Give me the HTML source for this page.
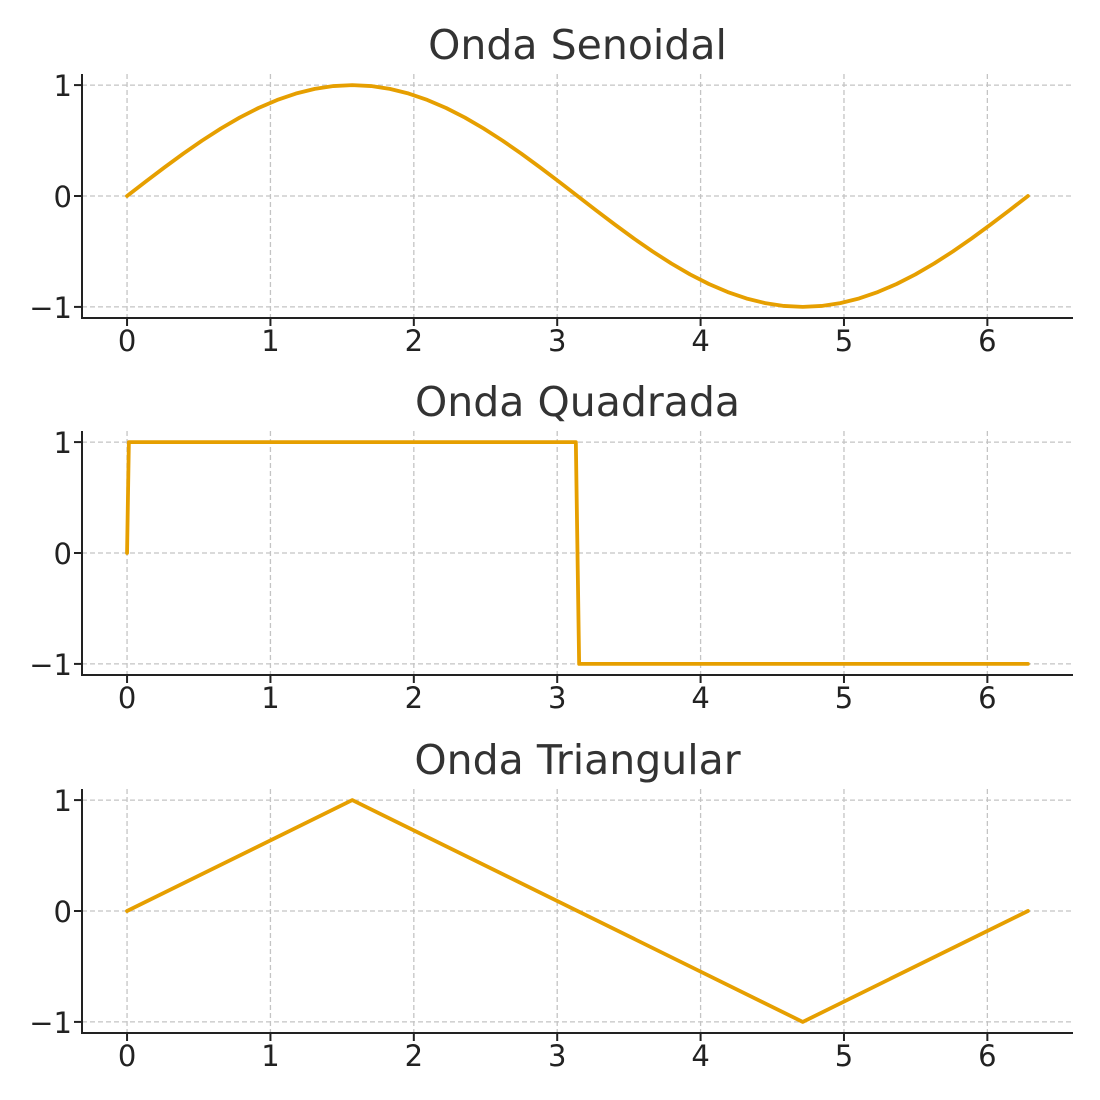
<!DOCTYPE html>
<html><head><meta charset="utf-8"><style>
body{margin:0;background:#fff}
svg{display:block;font-family:"DejaVu Sans","Liberation Sans",sans-serif}
</style></head><body>
<svg id="chart" width="1100" height="1100" viewBox="0 0 1100 1100" xmlns="http://www.w3.org/2000/svg"></svg>
<script>
const xTicks = [0,1,2,3,4,5,6];
const yTicks = [1,0,-1];
const yTickLabels = ["1","0","\u22121"];
const titles = ["Onda Senoidal","Onda Quadrada","Onda Triangular"];
const sineX = [];
for (let k=0;k<=48;k++) sineX.push(k*Math.PI/24);
const sineY = [0,0.1305,0.2588,0.3827,0.5,0.6088,0.7071,0.7934,0.8660,0.9239,0.9659,0.9914,1,0.9914,0.9659,0.9239,0.8660,0.7934,0.7071,0.6088,0.5,0.3827,0.2588,0.1305,0,-0.1305,-0.2588,-0.3827,-0.5,-0.6088,-0.7071,-0.7934,-0.8660,-0.9239,-0.9659,-0.9914,-1,-0.9914,-0.9659,-0.9239,-0.8660,-0.7934,-0.7071,-0.6088,-0.5,-0.3827,-0.2588,-0.1305,0];
const squareX = [0,0.0126,3.13,3.153,6.283];
const squareY = [0,1,1,-1,-1];
const triX = [0,1.5708,4.7124,6.283];
const triY = [0,1,-1,0];
const series = [[sineX,sineY],[squareX,squareY],[triX,triY]];
const names = ["sine","square","triangle"];

const svg = document.getElementById('chart');
const NS = "http://www.w3.org/2000/svg";
function el(tag, attrs, parent){const e=document.createElementNS(NS,tag);for(const k in attrs)e.setAttribute(k,attrs[k]);(parent||svg).appendChild(e);return e;}

const left=82,right=1073;
const xmin=-0.3142,xmax=6.5973;
const panelTops=[74,431,789];
const panelH=244;
function xs(v){return left+(v-xmin)/(xmax-xmin)*(right-left);}

panelTops.forEach((top,p)=>{
  const g=el('g',{});
  
  
  const bottom=top+panelH;
  const ys=v=>top+(1.1-v)/2.2*panelH;
  const t=el('text',{x:(left+right)/2,y:top-15,'text-anchor':'middle','font-size':41,fill:'#333'},g);
  t.textContent=titles[p];
  
  
  xTicks.forEach(v=>{
    const l=el('line',{x1:xs(v),x2:xs(v),y1:top,y2:bottom,stroke:'#c4c4c4','stroke-width':1.3,'stroke-dasharray':'5,3'},g);
    
    
    el('line',{x1:xs(v),x2:xs(v),y1:bottom,y2:bottom+8,stroke:'#222','stroke-width':2},g);
    const tl=el('text',{x:xs(v),y:bottom+33,'text-anchor':'middle','font-size':29,fill:'#222'},g);
    tl.textContent=String(v);
    
    
  });
  yTicks.forEach((v,i)=>{
    const l=el('line',{x1:left,x2:right,y1:ys(v),y2:ys(v),stroke:'#c4c4c4','stroke-width':1.3,'stroke-dasharray':'5,3'},g);
    
    
    el('line',{x1:left-8,x2:left,y1:ys(v),y2:ys(v),stroke:'#222','stroke-width':2},g);
    const tl=el('text',{x:left-10,y:ys(v)+11,'text-anchor':'end','font-size':29,fill:'#222'},g);
    tl.textContent=yTickLabels[i];
    
    
  });
  const [sx,sy]=series[p];
  const pts=sx.map((x,i)=>xs(x).toFixed(2)+','+ys(sy[i]).toFixed(2)).join(' ');
  const line=el('polyline',{points:pts,fill:'none',stroke:'#E69F00','stroke-width':3.8,'stroke-linejoin':'round','stroke-linecap':'round'},g);
  
  
  el('line',{x1:left,x2:left,y1:top,y2:bottom+1,stroke:'#222','stroke-width':2},g);
  el('line',{x1:left-1,x2:right,y1:bottom,y2:bottom,stroke:'#222','stroke-width':2},g);
});
</script>
</body></html>
